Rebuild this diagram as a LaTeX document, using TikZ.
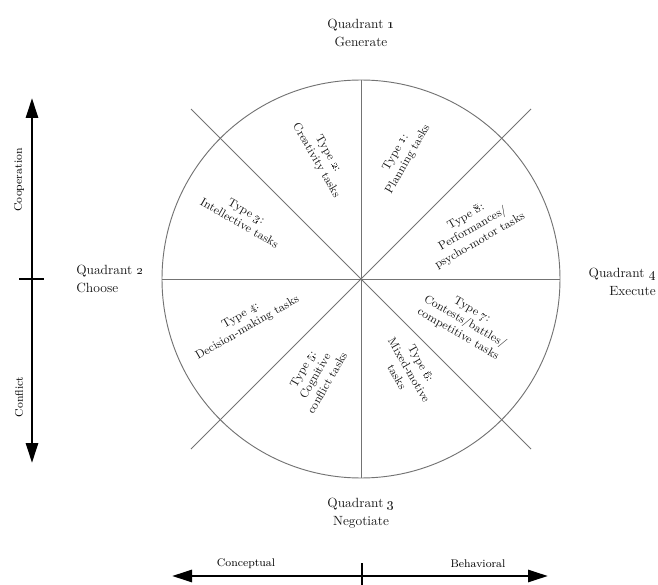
\documentclass[tikz,border=0pt]{standalone}
\usepackage{tikz}
\usetikzlibrary{shapes,arrows.meta}
\definecolor{wheel}{gray}{0.45}
\definecolor{ink}{gray}{0.1}
\tikzset{
  quad/.style={text=ink,font=\fontsize{10}{13.5}\selectfont,align=center,inner sep=0pt},
  sector/.style={text=ink,font=\fontsize{8.8}{10.5}\selectfont,align=center,inner sep=0pt},
  axislabel/.style={font=\fontsize{8.3}{10}\selectfont,inner sep=0pt},
  axis/.style={line width=2.2pt,{Triangle[length=15pt,width=9pt]}-{Triangle[length=15pt,width=9pt]}}
}

\begin{document}
\begin{tikzpicture}[x=0.75pt,y=-0.75pt]
				\useasboundingbox (0,0) rectangle (658,585);
				\coordinate (O) at (361,279);
				\coordinate (N) at (361,80);
				\coordinate (S) at (361,478);
				\coordinate (W) at (162,279);
				\coordinate (E) at (560,279);
				\coordinate (NW) at (191,109);
				\coordinate (SE) at (531,449);
				\coordinate (NE) at (531,109);
				\coordinate (SW) at (191,449);
				\draw[wheel][line width=0.7pt] (O) circle (149.25pt);
				\draw[wheel][line width=0.7pt] (N)--(S);
				\draw[wheel][line width=0.7pt] (W)--(E);
				\draw[wheel][line width=0.7pt] (NW)--(SE);
				\draw[wheel][line width=0.7pt] (NE)--(SW);

				\node[quad] (Quad1) at (361,33) {Quadrant \oldstylenums{1}\\Generate};
				\node[quad,anchor=west,align=left] (Quad2) at (76,279) {Quadrant \oldstylenums{2}\\Choose};
				\node[quad] (Quad3) at (361,513) {Quadrant \oldstylenums{3}\\Negotiate};
				\node[quad,anchor=east,align=right] (Quad4) at (656,282) {Quadrant \oldstylenums{4}\\Execute};

				\node[sector,rotate=60] (T1) at (402,156) {Type \oldstylenums{1}:\\Planning tasks};
				\node[sector,rotate=-60] (T2) at (322,157) {Type \oldstylenums{2}:\\Creativity tasks};
				\node[sector,rotate=-30] (T3) at (243,217) {Type \oldstylenums{3}:\\Intellective tasks};
				\node[sector,rotate=30] (T4) at (244,322) {Type \oldstylenums{4}:\\Decision-making tasks};
				\node[sector,rotate=60] (T5) at (315,376) {Type \oldstylenums{5}:\\Cognitive\\conflict tasks};
				\node[sector,rotate=-60] (T6) at (409,370) {Type \oldstylenums{6}:\\Mixed-motive\\tasks};
				\node[sector,rotate=-30] (T7) at (465,322) {Type \oldstylenums{7}:\\Contests/battles/\\competitive tasks};
				\node[sector,rotate=30] (T8) at (473,229) {Type \oldstylenums{8}:\\Performances/\\psycho-motor tasks};

				\coordinate (CoopTip) at (32,98);
				\coordinate (ConfTip) at (32,463);
				\coordinate (TickL) at (19,279);
				\coordinate (TickR) at (44,279);
				\coordinate (ConcTip) at (172,576);
				\coordinate (BehTip) at (548,576);
				\coordinate (TickU) at (362,563);
				\coordinate (TickD) at (362,585);
				\draw[axis] (CoopTip)--(ConfTip);
				\draw[line width=2.2pt] (TickL)--(TickR);
				\draw[axis] (ConcTip)--(BehTip);
				\draw[line width=2.2pt] (TickU)--(TickD);

				\node[axislabel,rotate=90] (Coop) at (19,180) {Cooperation};
				\node[axislabel,rotate=90] (Conf) at (19,397) {Conflict};
				\node[axislabel] (Conc) at (246,564) {Conceptual};
				\node[axislabel] (Beh) at (478,564) {Behavioral};
\end{tikzpicture}
\end{document}
